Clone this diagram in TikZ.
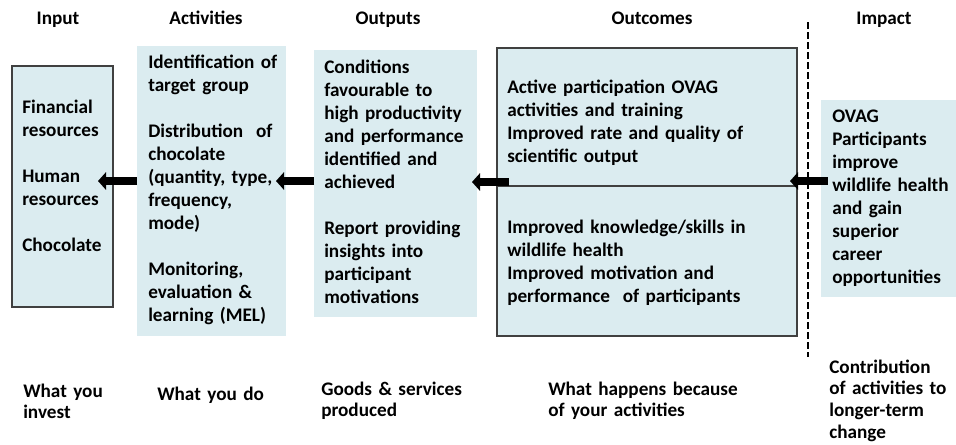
\documentclass[tikz,border=0pt]{standalone}
\usepackage{fontspec}
\setmainfont{Carlito}
\usetikzlibrary{arrows.meta,positioning,fit}
\definecolor{cellfill}{RGB}{219,236,240}
\definecolor{cellline}{RGB}{64,64,64}

\begin{document}
\begin{tikzpicture}[x=0.75pt,y=-0.75pt,
  font=\fontsize{14.4}{17.3}\selectfont\bfseries,
  cell/.style={fill=cellfill, inner sep=0pt, outer sep=0pt},
  cellb/.style={cell, draw=cellline, line width=1.2pt},
  txt/.style={anchor=base west, align=left, inner sep=0pt, text width=220pt},
  lbl/.style={txt, font=\fontsize{14.4}{16.4}\selectfont\bfseries},
  hd/.style={anchor=base, inner sep=0pt},
  arr/.style={-{Triangle[length=6pt,width=13pt]}, line width=6pt},
  sep/.style={line width=2pt, dash pattern=on 5.5pt off 2pt}
]
\useasboundingbox (0,0) rectangle (956,444);

\node[hd] (hin)  at (58,24)  {Input};
\node[hd] (hact) at (206,24) {Activities};
\node[hd] (hout) at (388,24) {Outputs};
\node[hd] (hoc)  at (652,24) {Outcomes};
\node[hd] (himp) at (884,24) {Impact};

\node[cellb, fit={(12,66) (113,307)}]   (inbox)  {};
\node[cell,  fit={(137,46) (286,336)}]  (actbox) {};
\node[cell,  fit={(314,50) (477,317)}]  (outbox) {};
\node[cellb, fit={(497,48) (797,336)}]  (ocbox)  {};
\node[cell,  fit={(821,100) (956,297)}] (impbox) {};

\coordinate (dv) at (0,186);
\draw[cellline, line width=1.2pt] (ocbox.west |- dv) -- (ocbox.east |- dv);

\node[txt] (intxt) at (22,113)
  {Financial\\resources\\[17.3pt]Human\\resources\\[17.3pt]Chocolate};
\node[txt] (acttxt) at (148,68)
  {Identification of\\target group\\[17.3pt]Distribution \ of\\chocolate\\(quantity, type,\\frequency,\\mode)\\[17.3pt]Monitoring,\\evaluation \&\\learning (MEL)};
\node[txt] (outtxt) at (324,73)
  {Conditions\\favourable to\\high productivity\\and performance\\identified and\\achieved\\[17.3pt]Report providing\\insights into\\participant\\motivations};
\node[txt] (octxt) at (507,93)
  {Active participation OVAG\\activities and training\\Improved rate and quality of\\scientific output};
\node[txt] (octxtb) at (507,233)
  {Improved knowledge/skills in\\wildlife health\\Improved motivation and\\performance \ of participants};
\node[txt] (imptxt) at (832,122)
  {OVAG\\Participants\\improve\\wildlife health\\and gain\\superior\\career\\opportunities};

\coordinate (t1) at (98,181);
\coordinate (t2) at (276,181);
\coordinate (t3) at (472,182);
\coordinate (t4) at (790,181);
\draw[arr] (actbox.west |- t1) -- (t1);
\draw[arr] (outbox.west |- t2) -- (t2);
\draw[arr] ([xshift=9pt]ocbox.west |- t3) -- (t3);
\draw[arr] ([xshift=5pt]impbox.west |- t4) -- (t4);

\draw[sep] (808,22) -- (808,357);

\node[lbl] (lin)  at (23,397)  {What you\\invest};
\node[lbl] (lact) at (157,400) {What you do};
\node[lbl] (lout) at (321,395) {Goods \& services\\produced};
\node[lbl] (loc)  at (548,395) {What happens because\\of your activities};
\node[lbl] (limp) at (829,373) {Contribution\\of activities to\\longer-term\\change};
\end{tikzpicture}
\end{document}
